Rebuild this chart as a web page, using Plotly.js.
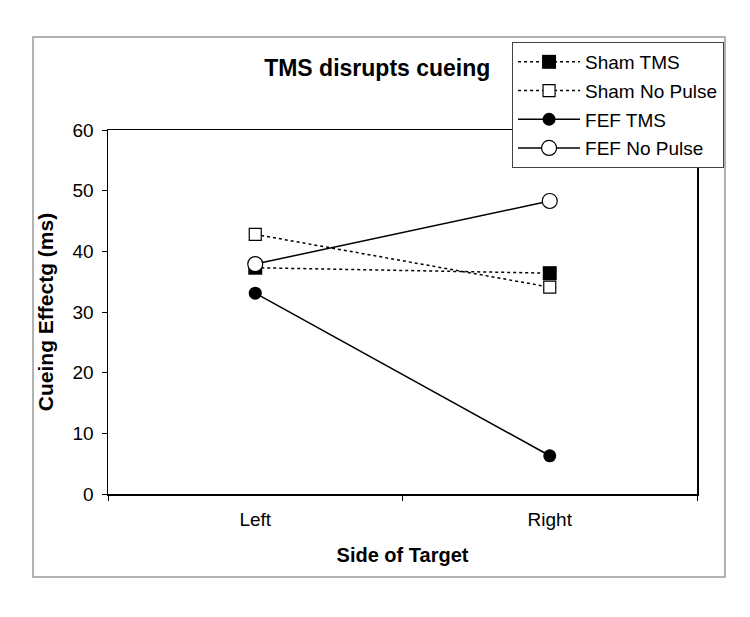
<!DOCTYPE html>
<html>
<head>
<meta charset="utf-8">
<script src="https://cdn.plot.ly/plotly-3.0.1.min.js"></script>
<style>
  body { margin: 0; background: #fff; }
  #myPlot { width: 750px; height: 617px; }
</style>
</head>
<body>
<div id="myPlot"></div>
<script>
var sides = ["Left", "Right"];
var shamTms = [37.3, 36.4];
var shamNoPulse = [42.8, 34.1];
var fefTms = [33.1, 6.3];
var fefNoPulse = [37.9, 48.3];

// Define Data
var data = [{
    x: sides, y: shamTms, name: "Sham TMS", legendgroup: "a",
    mode: "lines+markers",
    line: { color: "#000", width: 1.5, dash: "dot" },
    marker: { symbol: "square", size: 14, color: "#000" }
}, {
    x: sides, y: shamNoPulse, name: "Sham No Pulse", legendgroup: "b",
    mode: "lines+markers",
    line: { color: "#000", width: 1.5, dash: "dot" },
    marker: { symbol: "square", size: 12, color: "#fff", line: { color: "#000", width: 1.2 } }
}, {
    x: sides, y: fefTms, name: "FEF TMS", legendgroup: "c",
    mode: "lines+markers",
    line: { color: "#000", width: 1.5 },
    marker: { symbol: "circle", size: 13, color: "#000" }
}, {
    x: sides, y: fefNoPulse, name: "FEF No Pulse", legendgroup: "d",
    mode: "lines+markers",
    line: { color: "#000", width: 1.5 },
    marker: { symbol: "circle", size: 15, color: "#fff", line: { color: "#000", width: 1.2 } }
}];

// Define Layout
var layout = {
    width: 750, height: 617,
    margin: { l: 108, r: 53, t: 130, b: 123 },
    paper_bgcolor: "#fff", plot_bgcolor: "#fff",
    font: { family: "Liberation Sans, Arial, sans-serif", color: "#000", size: 19 },
    title: { text: "<b>TMS disrupts cueing</b>", font: { size: 23 }, x: 0.503, xanchor: "center", y: 0.89, yanchor: "middle" },
    xaxis: {
        type: "category", range: [-0.5, 1.5],
        showline: true, linecolor: "#000", linewidth: 1.5, mirror: true,
        ticks: "outside", tickson: "boundaries", ticklen: 5, tickcolor: "#000",
        ticklabelstandoff: 8,
        showgrid: false, zeroline: false,
        title: { text: "<b>Side of Target</b>", font: { size: 20 }, standoff: 18 }
    },
    yaxis: {
        range: [0, 60], dtick: 10,
        showline: true, linecolor: "#000", linewidth: 1.5, mirror: true,
        ticks: "outside", ticklen: 5, tickcolor: "#000",
        ticklabelstandoff: 4,
        showgrid: false, zeroline: false,
        title: { text: "<b>Cueing Effectg (ms)</b>", font: { size: 21 }, standoff: 13 }
    },
    showlegend: true,
    legend: {
        x: 0.686, y: 1.2418, xanchor: "left", yanchor: "top",
        bgcolor: "#fff", bordercolor: "#444", borderwidth: 1,
        font: { size: 19 }, itemwidth: 62, traceorder: "grouped", tracegroupgap: 1
    },
    shapes: [{
        type: "rect", xref: "paper", yref: "paper",
        x0: -0.1273, x1: 1.0475, y0: -0.228, y1: 1.2555,
        line: { color: "#999", width: 1.5 }, layer: "below"
    }]
};

// Display using Plotly
Plotly.newPlot("myPlot", data, layout, { staticPlot: true });
</script>
</body>
</html>
